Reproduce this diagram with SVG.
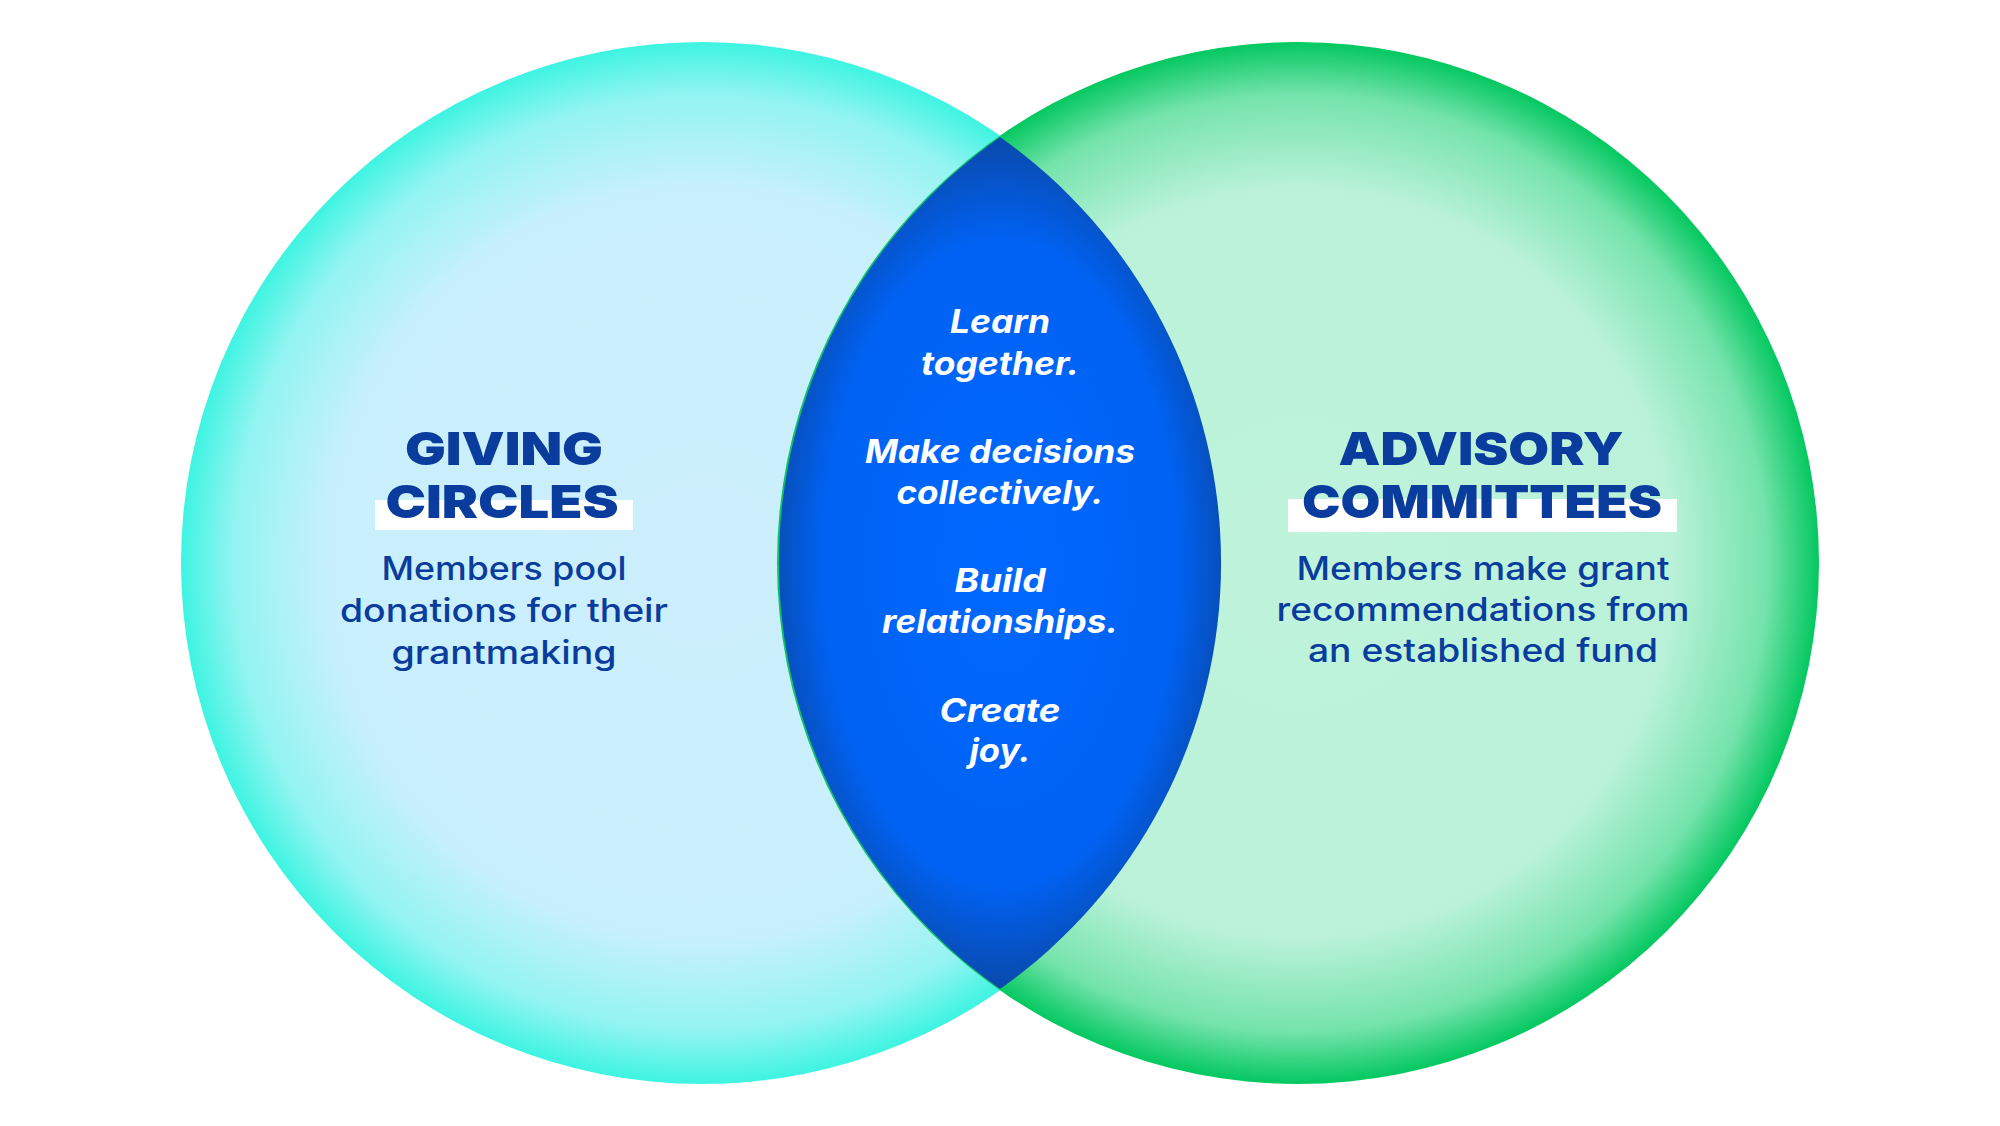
<svg xmlns="http://www.w3.org/2000/svg" width="2000" height="1126" viewBox="0 0 2000 1126">
<style>
.h{font-family:Inter,"Open Sans",sans-serif;font-weight:900;font-size:46px;fill:#0a3c9e;text-anchor:middle}
.b{font-family:Inter,"Open Sans",sans-serif;font-weight:500;font-size:32px;fill:#0a3c9e;text-anchor:middle}
.c{font-family:Inter,"Open Sans",sans-serif;font-weight:700;font-style:italic;font-size:32px;fill:#ffffff;text-anchor:middle}
</style>
<defs>
<radialGradient id="gl" cx="0.5" cy="0.5" r="0.5">
<stop offset="0" stop-color="#cdeefc"/>
<stop offset="0.72" stop-color="#c8f0fc"/>
<stop offset="0.9" stop-color="#92f4f1"/>
<stop offset="1" stop-color="#3ef4e2"/>
</radialGradient>
<radialGradient id="gr" cx="0.5" cy="0.5" r="0.5">
<stop offset="0" stop-color="#bff3dc"/>
<stop offset="0.72" stop-color="#baf2d9"/>
<stop offset="0.9" stop-color="#74e3ab"/>
<stop offset="1" stop-color="#04c860"/>
</radialGradient>
<radialGradient id="gc" cx="1000" cy="563" r="430" gradientUnits="userSpaceOnUse" gradientTransform="translate(1000 563) scale(0.55 1) translate(-1000 -563)">
<stop offset="0" stop-color="#0068ff"/>
<stop offset="0.75" stop-color="#0062f4"/>
<stop offset="1" stop-color="#0a48a8"/>
</radialGradient>
</defs>
<rect width="2000" height="1126" fill="#ffffff"/>
<g id="giving-circles">
<circle cx="702" cy="563" r="521" fill="url(#gl)"/>
<rect x="375" y="500" width="258" height="30" fill="#ffffff"/>
<text class="h" x="504" y="465" textLength="198" lengthAdjust="spacingAndGlyphs">GIVING</text>
<text class="h" x="502" y="518" textLength="233" lengthAdjust="spacingAndGlyphs">CIRCLES</text>
<text class="b" x="504" y="580" textLength="245" lengthAdjust="spacingAndGlyphs">Members pool</text>
<text class="b" x="504" y="622" textLength="328" lengthAdjust="spacingAndGlyphs">donations for their</text>
<text class="b" x="504" y="664" textLength="225" lengthAdjust="spacingAndGlyphs">grantmaking</text>
</g>
<g id="advisory-committees">
<circle cx="1298" cy="563" r="521" fill="url(#gr)"/>
<rect x="1288" y="499" width="389" height="33" fill="#ffffff"/>
<text class="h" x="1481" y="465" textLength="285" lengthAdjust="spacingAndGlyphs">ADVISORY</text>
<text class="h" x="1482" y="518" textLength="360" lengthAdjust="spacingAndGlyphs">COMMITTEES</text>
<text class="b" x="1483" y="580" textLength="373" lengthAdjust="spacingAndGlyphs">Members make grant</text>
<text class="b" x="1483" y="621" textLength="413" lengthAdjust="spacingAndGlyphs">recommendations from</text>
<text class="b" x="1483" y="662" textLength="350" lengthAdjust="spacingAndGlyphs">an established fund</text>
</g>
<g id="overlap">
<path d="M1000,137 A521,521 0 0 1 1000,989 A521,521 0 0 1 1000,137 Z" fill="url(#gc)"/>
<text class="c" x="1000" y="333" textLength="100" lengthAdjust="spacingAndGlyphs">Learn</text>
<text class="c" x="1000" y="375" textLength="158" lengthAdjust="spacingAndGlyphs">together.</text>
<text class="c" x="1000" y="463" textLength="270" lengthAdjust="spacingAndGlyphs">Make decisions</text>
<text class="c" x="1000" y="504" textLength="207" lengthAdjust="spacingAndGlyphs">collectively.</text>
<text class="c" x="1000" y="592" textLength="91" lengthAdjust="spacingAndGlyphs">Build</text>
<text class="c" x="1000" y="633" textLength="236" lengthAdjust="spacingAndGlyphs">relationships.</text>
<text class="c" x="1000" y="722" textLength="121" lengthAdjust="spacingAndGlyphs">Create</text>
<text class="c" x="1000" y="762" textLength="61" lengthAdjust="spacingAndGlyphs">joy.</text>
</g>
<g id="connectors"></g>
</svg>
